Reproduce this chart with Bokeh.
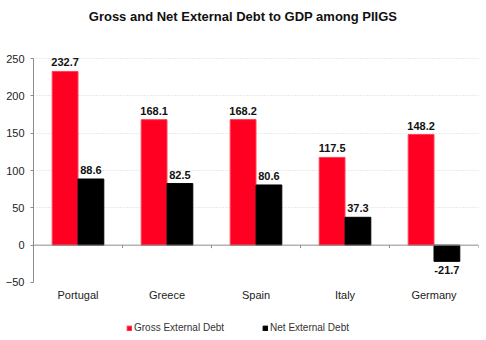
from bokeh.plotting import figure
from bokeh.models import (Range1d, FixedTicker, ColumnDataSource, LabelSet, Label, Span,
                          Legend, LegendItem)
from bokeh.core.properties import value
from bokeh.embed import file_html
from bokeh.resources import INLINE

title = "Gross and Net External Debt to GDP among PIIGS"
categories = ["Portugal", "Greece", "Spain", "Italy", "Germany"]
gross = [232.7, 168.1, 168.2, 117.5, 148.2]
net = [88.6, 82.5, 80.6, 37.3, -21.7]
y_ticks = [-50, 0, 50, 100, 150, 200, 250]

FONT = "Liberation Sans"
RED = "#FF0022"
BW = 0.29

n = len(categories)
xc = [i + 0.5 for i in range(n)]
y_min = y_ticks[0]

src = ColumnDataSource(data=dict(
    xg=[x - BW / 2 for x in xc],
    xn=[x + BW / 2 for x in xc],
    gross=gross,
    net=net,
    glab=[f"{v:.1f}" for v in gross],
))

# the frame covers the whole canvas height so that title, legend and
# category labels can live inside it
yr = Range1d(-127.7, 327.7)
p = figure(frame_width=445, frame_height=340, output_backend="svg", toolbar_location=None,
           x_range=Range1d(0, n), y_range=yr,
           min_border_left=33, min_border_right=8, min_border_top=0,
           min_border_bottom=0, outline_line_color=None)

rg = p.vbar(x="xg", top="gross", bottom=0, width=BW, source=src,
            fill_color=RED, line_color="#FF4055", line_width=1)
rn = p.vbar(x="xn", top="net", bottom=0, width=BW, source=src,
            fill_color="black", line_color="black")

# zero line and category boundary ticks
p.add_layout(Span(location=0, dimension="width", line_color="#8c8c8c", line_width=1))
bx = list(range(1, n + 1))
p.segment(x0=bx, x1=bx, y0=[0] * n, y1=[-4] * n, line_color="#8c8c8c", line_width=1)

# title
p.add_layout(Label(x=n / 2, y=yr.end, text=title, text_align="center", text_baseline="top",
                   x_offset=-13, y_offset=-8, text_font=FONT, text_font_size="13px",
                   text_font_style="bold", text_color="#111111"))

lab_style = dict(text_align="center", text_font=value(FONT), text_font_size="11px",
                 text_font_style="bold", text_color="#111111")

# value labels
pos = [v >= 0 for v in net]
p.add_layout(LabelSet(x="xg", y="gross", text="glab", source=src,
                      text_baseline="bottom", y_offset=5, **lab_style))
src_np = ColumnDataSource(data=dict(
    x=[src.data["xn"][i] for i in range(n) if pos[i]],
    y=[net[i] for i in range(n) if pos[i]],
    t=[f"{net[i]:.1f}" for i in range(n) if pos[i]]))
src_nn = ColumnDataSource(data=dict(
    x=[src.data["xn"][i] for i in range(n) if not pos[i]],
    y=[net[i] for i in range(n) if not pos[i]],
    t=[f"{net[i]:.1f}" for i in range(n) if not pos[i]]))
p.add_layout(LabelSet(x="x", y="y", text="t", source=src_np,
                      text_baseline="bottom", y_offset=5, **lab_style))
p.add_layout(LabelSet(x="x", y="y", text="t", source=src_nn,
                      text_baseline="top", y_offset=-5, **lab_style))

# category labels (below the -50 axis end)
src_cat = ColumnDataSource(data=dict(x=xc, y=[y_min] * n, t=categories))
p.add_layout(LabelSet(x="x", y="y", text="t", source=src_cat, text_align="center",
                      text_baseline="top", y_offset=-7, text_font=value(FONT),
                      text_font_size="11px", text_color="#222222"))

p.xaxis.visible = False

p.yaxis.ticker = FixedTicker(ticks=y_ticks)
p.yaxis.bounds = (y_ticks[0], y_ticks[-1])
p.yaxis.axis_line_color = "#8c8c8c"
p.yaxis.major_tick_line_color = "#8c8c8c"
p.yaxis.major_tick_in = 0
p.yaxis.major_tick_out = 3
p.yaxis.minor_tick_line_color = None
p.yaxis.major_label_standoff = 6
p.yaxis.major_label_text_font = FONT
p.yaxis.major_label_text_font_size = "11px"
p.yaxis.major_label_text_color = "#222222"

p.xgrid.grid_line_color = None
p.ygrid.ticker = FixedTicker(ticks=[50, 100, 150, 200, 250])
p.ygrid.grid_line_color = "#d4d4d4"
p.ygrid.grid_line_dash = "1 2"

legend = Legend(items=[LegendItem(label="Gross External Debt", renderers=[rg]),
                       LegendItem(label="Net External Debt", renderers=[rn])],
                orientation="horizontal", location=(93, 6),
                glyph_width=6, glyph_height=6, spacing=38, padding=0, margin=0,
                label_text_font=FONT, label_text_font_size="10px",
                label_height=13, label_text_baseline="middle",
                label_text_color="#333333", label_standoff=2,
                border_line_color=None, background_fill_alpha=0)
p.add_layout(legend)

open("out.html", "w").write(file_html(p, INLINE))
